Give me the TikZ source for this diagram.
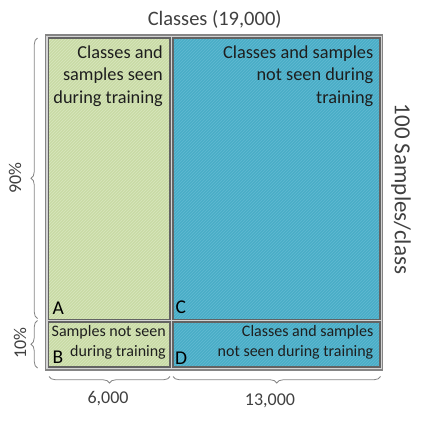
\documentclass[tikz,border=0pt]{standalone}
\usepackage{fontspec}
\setmainfont{Carlito}
\usetikzlibrary{patterns,decorations.pathreplacing}
\definecolor{cellgreen}{HTML}{C9DBA6}
\definecolor{hatchgreen}{HTML}{D8E6BE}
\definecolor{cellblue}{HTML}{4AADC7}
\definecolor{hatchblue}{HTML}{62BAD2}
\definecolor{framegray}{HTML}{858585}
\definecolor{cellgray}{HTML}{636363}
\definecolor{gapgray}{HTML}{D4D4D4}
\definecolor{annot}{HTML}{404040}
\definecolor{celltext}{HTML}{1E1E1E}
\tikzset{
  frame/.style={draw=framegray, line width=1.3pt, fill=gapgray},
  greencell/.style={fill=cellgreen, draw=cellgray, line width=1.7pt},
  bluecell/.style={fill=cellblue, draw=cellgray, line width=1.7pt},
  greenhatch/.style={pattern=north east lines, pattern color=hatchgreen},
  bluehatch/.style={pattern=north east lines, pattern color=hatchblue},
  celltxt/.style={inner sep=0pt, align=right, text=celltext},
  bigtxt/.style={celltxt, font=\fontsize{18.3}{22.3}\selectfont},
  smalltxt/.style={celltxt, font=\fontsize{16}{20}\selectfont},
  letter/.style={inner sep=0pt, anchor=base west, text=black, font=\fontsize{19.5}{22}\selectfont},
  annottxt/.style={inner sep=0pt, text=annot, font=\fontsize{18}{22}\selectfont},
  bracestyle/.style={draw=framegray, line width=0.8pt, decorate, decoration={brace, amplitude=6.5pt}},
}
\begin{document}
\begin{tikzpicture}[x=1pt, y=-1pt]
\useasboundingbox (0,0) rectangle (423,423);
% outer frame
\path[frame] (45.5,35) rectangle (382.5,370);
% cells
\path[greencell] (48.5,38) rectangle (170,319.5);
\fill[greenhatch] (48.5,38) rectangle (170,319.5);
\path[bluecell] (173,38) rectangle (380,319.5);
\fill[bluehatch] (173,38) rectangle (380,319.5);
\path[greencell] (48.5,322.3) rectangle (170,367.3);
\fill[greenhatch] (48.5,322.3) rectangle (170,367.3);
\path[bluecell] (173,322.3) rectangle (380,367.3);
\fill[bluehatch] (173,322.3) rectangle (380,367.3);
\draw[cellgray, line width=1.7pt] (48.5,38) rectangle (170,319.5);
\draw[cellgray, line width=1.7pt] (173,38) rectangle (380,319.5);
\draw[cellgray, line width=1.7pt] (48.5,322.3) rectangle (170,367.3);
\draw[cellgray, line width=1.7pt] (173,322.3) rectangle (380,367.3);
% cell texts
\node[bigtxt, anchor=north east] (ta) at (163,45.5) {Classes and\\samples seen\\during training};
\node[bigtxt, anchor=north east] (tc) at (373.5,45.5) {Classes and samples\\not seen during\\training};
\node[smalltxt, anchor=north east] (tb) at (166,325.5) {Samples not seen\\during training};
\node[smalltxt, anchor=north east] (td) at (373.5,325.5) {Classes and samples\\not seen during training};
% letters
\node[letter] (la) at (52.5,314.5) {A};
\node[letter] (lc) at (175.5,313) {C};
\node[letter] (lb) at (52.5,363.5) {B};
\node[letter] (ld) at (175,364) {D};
% title and side labels
\node[annottxt, font=\fontsize{20.5}{24}\selectfont] (title) at (214.7,19) {Classes (19,000)};
\node[annottxt, font=\fontsize{23}{26}\selectfont, rotate=-90] (samples) at (401,189) {100 Samples/class};
% braces
\coordinate (b90s) at (37.5,318.5);
\coordinate (b90e) at (37.5,38);
\coordinate (b10s) at (37.5,368);
\coordinate (b10e) at (37.5,320.5);
\coordinate (b6s) at (170,376.5);
\coordinate (b6e) at (49,376.5);
\coordinate (b13s) at (380.5,376.5);
\coordinate (b13e) at (173,376.5);
\path[bracestyle] (b90s) -- (b90e);
\path[bracestyle] (b10s) -- (b10e);
\path[bracestyle] (b6s) -- (b6e);
\path[bracestyle] (b13s) -- (b13e);
\node[annottxt, rotate=90] (p90) at (15,178) {90\%};
\node[annottxt, rotate=90] (p10) at (20,343) {10\%};
\node[annottxt] (n6) at (108,399) {6,000};
\node[annottxt] (n13) at (270,401) {13,000};
\end{tikzpicture}
\end{document}
